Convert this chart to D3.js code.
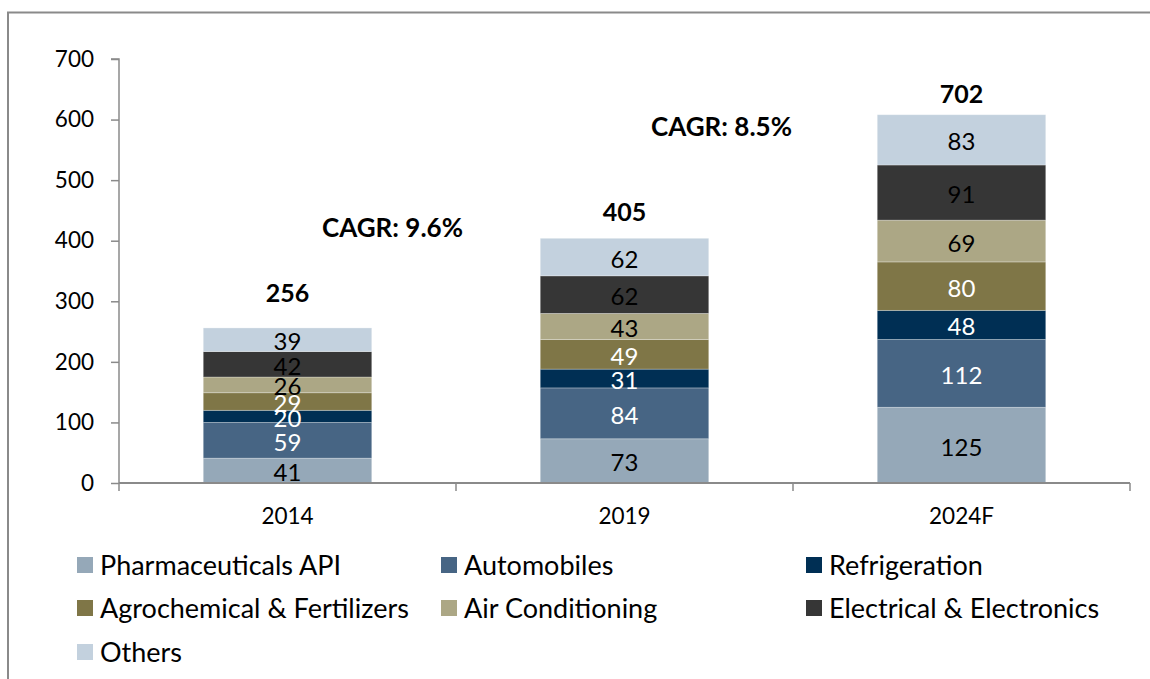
<!DOCTYPE html>
<html>
<head>
<meta charset="utf-8">
<script src="https://cdn.jsdelivr.net/npm/d3@7"></script>
<style>
  html, body { margin: 0; padding: 0; background: #ffffff; }
  svg { display: block; font-family: Lato, "Open Sans", sans-serif; }
</style>
</head>
<body>
<svg id="chart" width="1150" height="679"></svg>
<script>
// Market size by end-use segment
const years = ["2014", "2019", "2024F"];
const seriesNames = [
  "Pharmaceuticals API",
  "Automobiles",
  "Refrigeration",
  "Agrochemical & Fertilizers",
  "Air Conditioning",
  "Electrical & Electronics",
  "Others"
];
const pharmaceuticalsAPI = [41, 73, 125];
const automobiles = [59, 84, 112];
const refrigeration = [20, 31, 48];
const agrochemical = [29, 49, 80];
const airConditioning = [26, 43, 69];
const electrical = [42, 62, 91];
const others = [39, 62, 83];
const totalLabels = ["256", "405", "702"];
const cagrLabels = ["CAGR: 9.6%", "CAGR: 8.5%"];
const yTicks = [0, 100, 200, 300, 400, 500, 600, 700];

const seriesValues = [pharmaceuticalsAPI, automobiles, refrigeration, agrochemical,
                      airConditioning, electrical, others];
const colors = ["#95a8b8", "#476584", "#002f54", "#7f7647", "#aca785", "#363636", "#c3d1de"];
const labelColors = ["#000", "#fff", "#fff", "#fff", "#000", "#000", "#000"];

const rows = years.map((yr, i) => {
  const r = { year: yr };
  seriesNames.forEach((s, j) => r[s] = seriesValues[j][i]);
  return r;
});

const svg = d3.select("#chart");

// outer frame (top and left edges)
svg.append("path")
  .attr("d", "M8,679 V12.5 H1150")
  .attr("fill", "none").attr("stroke", "#8a8a8a").attr("stroke-width", 2);

const x = d3.scaleBand().domain(years).range([119, 1130]).paddingInner(0.5).paddingOuter(0.25);
const y = d3.scaleLinear().domain([0, 700]).range([483, 59]);

const stack = d3.stack().keys(seriesNames)(rows);

const layers = svg.append("g").selectAll("g").data(stack).join("g")
  .attr("fill", (d, i) => colors[i]);

layers.selectAll("rect").data(d => d).join("rect")
  .attr("x", d => x(d.data.year))
  .attr("width", x.bandwidth())
  .attr("y", d => y(d[1]))
  .attr("height", d => y(d[0]) - y(d[1]))
  .attr("stroke", "rgba(255,255,255,0.35)")
  .attr("stroke-width", 0.8);

// segment value labels
layers.each(function(layer, i) {
  d3.select(this).selectAll("text").data(layer).join("text")
    .attr("x", d => x(d.data.year) + x.bandwidth() / 2)
    .attr("y", d => (y(d[0]) + y(d[1])) / 2 + 1)
    .attr("text-anchor", "middle")
    .attr("dominant-baseline", "central")
    .attr("fill", labelColors[i])
    .attr("font-size", 24)
    .text(d => d[1] - d[0]);
});

// y axis
const yAxis = svg.append("g").attr("transform", "translate(119,0)")
  .call(d3.axisLeft(y).tickValues(yTicks).tickSize(8).tickPadding(17));
yAxis.select(".domain").attr("stroke", "#8a8a8a").attr("stroke-width", 1.5)
  .attr("d", `M-8,${y(700)}H0V${y(0)}`);
yAxis.selectAll(".tick line").attr("stroke", "#8a8a8a").attr("stroke-width", 1.5);
yAxis.selectAll(".tick text").attr("font-size", 22.5).attr("fill", "#000")
  .attr("font-family", "Lato, sans-serif");

// x axis with ticks at category boundaries
const xAxis = svg.append("g").attr("transform", `translate(0,${y(0)})`)
  .call(d3.axisBottom(x).tickSize(0).tickPadding(25));
xAxis.select(".domain").attr("stroke", "#8a8a8a").attr("stroke-width", 2)
  .attr("d", "M119,0H1130");
xAxis.selectAll(".tick text").attr("font-size", 22.5).attr("fill", "#000")
  .attr("font-family", "Lato, sans-serif");
const step = x.step();
const boundaries = [x.range()[0]].concat(years.map(d => x(d) - step * x.paddingInner() / 2 + step));
xAxis.selectAll(".bound").data(boundaries).join("line")
  .attr("class", "bound")
  .attr("x1", d => d).attr("x2", d => d)
  .attr("y1", 0).attr("y2", 8)
  .attr("stroke", "#8a8a8a").attr("stroke-width", 1.5);

// total labels above each bar
const totalAt = [299, 432, 627];
svg.append("g").selectAll("text").data(years).join("text")
  .attr("x", d => x(d) + x.bandwidth() / 2)
  .attr("y", (d, i) => y(totalAt[i]))
  .attr("text-anchor", "middle")
  .attr("font-weight", "bold")
  .attr("font-size", 25)
  .text((d, i) => totalLabels[i]);

// growth annotations
const cagrPos = [[322, 406], [651, 573]];
svg.append("g").selectAll("text").data(cagrLabels).join("text")
  .attr("x", (d, i) => cagrPos[i][0])
  .attr("y", (d, i) => y(cagrPos[i][1]))
  .attr("font-weight", "bold")
  .attr("font-size", 26)
  .text(d => d);

// legend
const legendX = [77, 441, 806];
const legendY = [565, 608, 652];
const legend = svg.append("g").selectAll("g").data(seriesNames).join("g")
  .attr("transform", (d, i) => `translate(${legendX[i % 3]},${legendY[Math.floor(i / 3)]})`);
legend.append("rect")
  .attr("x", 0).attr("y", -8).attr("width", 16).attr("height", 16)
  .attr("fill", (d, i) => colors[i]);
legend.append("text")
  .attr("x", 23).attr("y", -1)
  .attr("dominant-baseline", "central")
  .attr("font-size", 27)
  .text(d => d);
</script>
</body>
</html>
